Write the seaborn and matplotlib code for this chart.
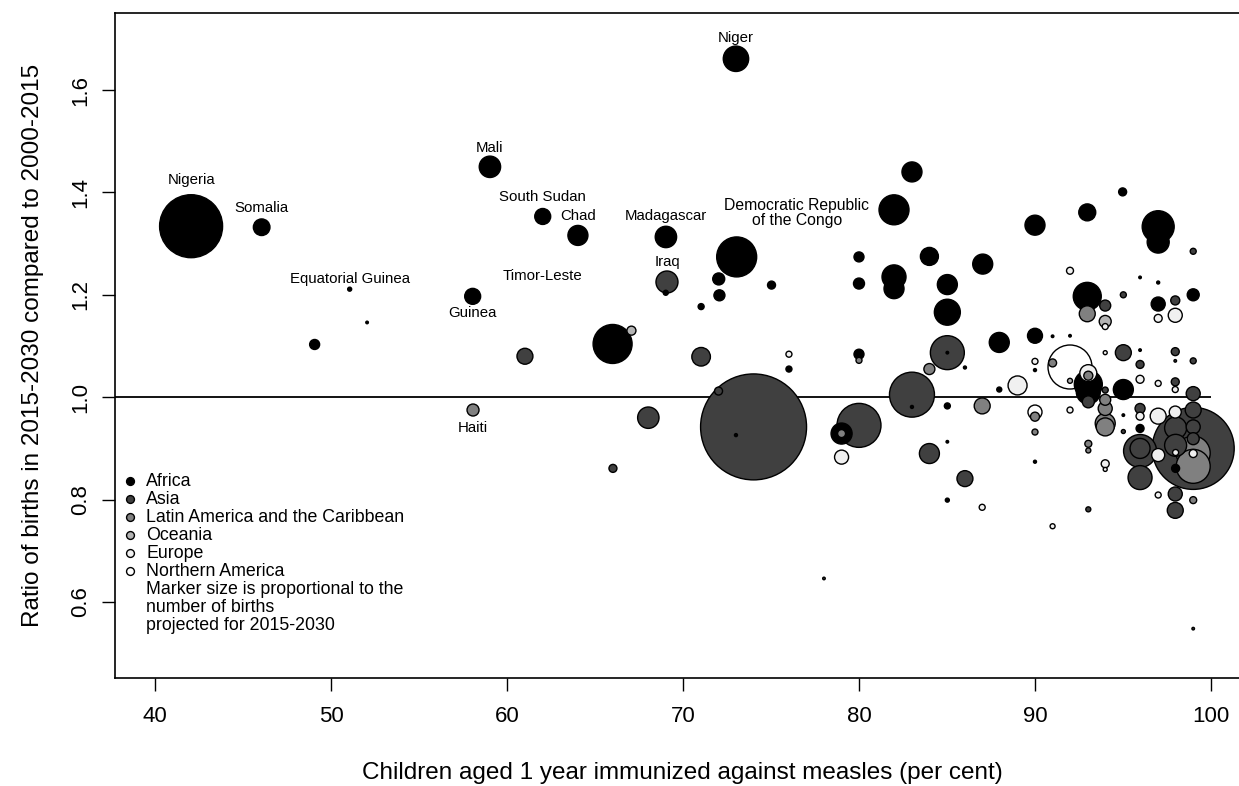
import numpy as np
import pandas as pd
import seaborn as sns
import matplotlib.pyplot as plt

# Immunization coverage (%), birth ratio 2015-2030 / 2000-2015, births 2015-2030 (millions)
africa_cov = [42.05, 46.06, 59.03, 62.03, 64.03, 51.06, 52.05, 49.07, 58.05, 66.0,
              69.03, 69.02, 72.03, 72.07, 71.03, 73.05, 73.01, 75.03, 76.02, 80.0,
              80.0, 80.0, 79.01, 73.01, 83.01, 81.99, 94.98, 92.97, 90.0, 97.0,
              97.0, 84.0, 87.03, 81.99, 81.99, 85.02, 85.02, 95.97, 97.0, 98.99,
              92.97, 97.0, 87.97, 90.0, 91.0, 91.99, 90.0, 93.03, 93.03, 95.02,
              95.97, 86.02, 85.02, 87.97, 83.01, 85.02, 85.02, 90.0, 95.97, 97.99,
              95.02, 85.02]
africa_ratio = [1.334, 1.332, 1.450, 1.353, 1.316, 1.211, 1.146, 1.103, 1.197, 1.104,
                1.313, 1.204, 1.231, 1.199, 1.177, 1.274, 1.661, 1.219, 1.055, 1.274,
                1.222, 1.084, 0.929, 0.926, 1.440, 1.366, 1.401, 1.361, 1.336, 1.333,
                1.303, 1.275, 1.260, 1.235, 1.212, 1.220, 1.166, 1.234, 1.224, 1.200,
                1.197, 1.182, 1.107, 1.120, 1.119, 1.120, 1.053, 1.025, 1.010, 1.015,
                1.092, 1.058, 0.983, 1.015, 0.981, 0.913, 0.799, 0.874, 0.939, 0.861,
                0.965, 1.087]
africa_births = [131.0, 9.1, 15.1, 8.4, 13.2, 0.53, 0.22, 3.3, 8.4, 50.2,
                 15.1, 0.83, 4.75, 4.0, 1.19, 52.8, 21.3, 2.1, 1.19, 3.3,
                 4.0, 3.3, 14.6, 0.3, 13.2, 29.7, 2.1, 9.5, 13.2, 33.8,
                 16.0, 10.7, 13.2, 19.0, 13.2, 13.2, 22.3, 0.22, 0.3, 4.75,
                 25.9, 6.5, 13.2, 7.4, 0.22, 0.22, 0.3, 25.9, 19.0, 13.2,
                 0.22, 0.3, 1.19, 0.83, 0.3, 0.22, 0.53, 0.3, 2.1, 2.1,
                 0.22, 0.22]

asia_cov = [74.01, 98.99, 61.02, 68.03, 66.02, 69.09, 71.03, 72.02, 80.0, 83.01,
            85.02, 84.0, 86.02, 98.99, 95.02, 93.99, 97.97, 95.02, 93.99, 95.97,
            97.97, 98.99, 97.97, 98.99, 98.99, 98.99, 98.99, 93.03, 95.97, 95.97,
            95.97, 95.97, 97.99, 97.99, 97.97, 97.97, 93.03, 95.02, 97.97, 98.99,
            78.01]
asia_ratio = [0.942, 0.900, 1.080, 0.960, 0.861, 1.225, 1.079, 1.012, 0.945, 1.005,
              1.087, 0.890, 0.841, 1.285, 1.200, 1.179, 1.189, 1.087, 1.014, 1.064,
              1.089, 1.071, 1.030, 1.007, 0.975, 0.942, 0.919, 0.991, 0.978, 0.895,
              0.900, 0.843, 0.940, 0.906, 0.811, 0.779, 0.781, 0.933, 1.071, 0.548,
              0.646]
asia_births = [370.8, 221.9, 8.4, 15.1, 2.1, 16.0, 11.4, 2.1, 63.9, 66.8,
               38.1, 13.2, 8.4, 1.19, 1.19, 4.0, 2.7, 8.4, 1.19, 2.1,
               2.1, 1.19, 2.1, 6.5, 8.4, 6.5, 4.75, 4.75, 3.3, 35.9,
               13.2, 19.0, 16.0, 16.0, 6.5, 8.4, 0.83, 0.53, 0.22, 0.22,
               0.22]

latam_cov = [58.07, 87.0, 84.0, 92.97, 91.0, 93.03, 93.99, 93.99, 93.99, 93.99,
             90.0, 90.0, 93.03, 93.03, 98.99, 98.99, 98.99, 80.0, 79.01]
latam_ratio = [0.975, 0.983, 1.055, 1.163, 1.067, 1.042, 0.995, 0.978, 0.949, 0.942,
               0.962, 0.932, 0.909, 0.896, 0.799, 0.891, 0.865, 1.072, 0.929]
latam_births = [4.75, 8.4, 4.0, 8.4, 2.1, 2.7, 4.0, 6.5, 13.2, 10.7,
                2.7, 1.19, 1.6, 0.83, 1.6, 38.1, 38.1, 1.19, 2.1]

oceania_cov = [67.07, 93.99, 91.99]
oceania_ratio = [1.130, 1.148, 1.032]
oceania_births = [2.7, 4.75, 0.83]

europe_cov = [91.99, 97.97, 97.0, 93.99, 89.01, 90.0, 93.03, 93.99, 95.97, 97.0,
              97.97, 91.99, 95.97, 97.0, 97.97, 97.0, 97.0, 87.0, 91.0, 93.99,
              93.99, 76.02, 79.01, 97.99, 98.99]
europe_ratio = [1.247, 1.160, 1.154, 1.138, 1.023, 1.070, 1.047, 1.087, 1.035, 1.027,
                1.015, 0.975, 0.963, 0.963, 0.971, 0.887, 0.809, 0.785, 0.748, 0.870,
                0.859, 1.084, 0.883, 0.892, 0.890]
europe_births = [1.6, 6.5, 2.1, 1.19, 11.9, 1.19, 9.5, 0.53, 2.1, 1.19,
                 1.19, 1.19, 2.1, 8.4, 4.75, 5.6, 1.19, 1.19, 0.83, 2.1,
                 0.53, 1.19, 6.5, 1.19, 2.1]

namerica_cov = [91.99, 90.0]
namerica_ratio = [1.059, 0.971]
namerica_births = [63.9, 6.5]

regions = ["Africa", "Asia", "Latin America and the Caribbean", "Oceania",
           "Europe", "Northern America"]
region_colors = ["#000000", "#404040", "#808080", "#b4b4b4", "#f0f0f0", "#ffffff"]

labelled = {
    "Niger": (73.01, 1.661), "Nigeria": (42.05, 1.334), "Somalia": (46.06, 1.332),
    "Mali": (59.03, 1.450), "South Sudan": (62.03, 1.353), "Chad": (64.03, 1.316),
    "Madagascar": (69.03, 1.313), "Iraq": (69.09, 1.225),
    "Democratic Republic\nof the Congo": (73.05, 1.274),
    "Equatorial Guinea": (51.06, 1.211), "Timor-Leste": (62.03, 1.219),
    "Guinea": (58.05, 1.197), "Haiti": (58.07, 0.975),
}

frames = []
for name, c, r, b in [
    ("Africa", africa_cov, africa_ratio, africa_births),
    ("Asia", asia_cov, asia_ratio, asia_births),
    ("Latin America and the Caribbean", latam_cov, latam_ratio, latam_births),
    ("Oceania", oceania_cov, oceania_ratio, oceania_births),
    ("Europe", europe_cov, europe_ratio, europe_births),
    ("Northern America", namerica_cov, namerica_ratio, namerica_births),
]:
    frames.append(pd.DataFrame({"coverage": c, "ratio": r, "births": b, "region": name}))
data = pd.concat(frames, ignore_index=True)
# biggest bubbles first so the small ones stay visible on top
data = data.sort_values("births", ascending=False, kind="stable")

sns.set_style("white")
plt.rcParams["font.family"] = ["Liberation Sans", "DejaVu Sans"]
plt.rcParams["text.color"] = "black"
plt.rcParams["axes.labelcolor"] = "black"

fig = plt.figure(figsize=(12.39, 7.86), dpi=100)
ax = fig.add_axes([115 / 1239, 108 / 786, 1134 / 1239, 665 / 786])

bmax = data["births"].max()
pt_per_birth = 15.7  # marker area (pt^2) per million births
sns.scatterplot(data=data, x="coverage", y="ratio", hue="region",
                hue_order=regions, palette=dict(zip(regions, region_colors)),
                size="births", sizes=(0, pt_per_birth * bmax), size_norm=(0, bmax),
                edgecolor="black", linewidth=1.0, alpha=1, legend=False, ax=ax,
                zorder=3)

ax.set_xlim(37.727, 102.16)
ax.set_ylim(0.4516, 1.7504)
ax.hlines(1.0, 37.727, 100, color="black", lw=1.3, zorder=2)

ax.set_xticks(np.arange(40, 101, 10))
ax.set_yticks([0.6, 0.8, 1.0, 1.2, 1.4, 1.6])
ax.set_yticklabels(["0.6", "0.8", "1.0", "1.2", "1.4", "1.6"])
ax.tick_params(axis="both", direction="out", length=9.4, width=1.0, color="black",
               labelsize=16, labelcolor="black", left=True, bottom=True)
ax.tick_params(axis="x", pad=11)
ax.tick_params(axis="y", pad=8, labelrotation=90)
for lbl in ax.get_yticklabels():
    lbl.set_va("center")
for sp in ax.spines.values():
    sp.set_color("black")
    sp.set_linewidth(1.2)

ax.set_xlabel("Children aged 1 year immunized against measles (per cent)", fontsize=17.5)
ax.set_ylabel("Ratio of births in 2015-2030 compared to 2000-2015", fontsize=17.5)
ax.xaxis.set_label_coords(0.5, -0.143)
ax.xaxis.label.set_va("center")
ax.yaxis.set_label_coords(-0.072, 0.5)
ax.yaxis.label.set_va("center")

offsets = {
    "Niger": (0, 15.1), "Nigeria": (0, 33.6), "Somalia": (0, 14.2), "Mali": (0, 13.7),
    "South Sudan": (0, 13.9), "Chad": (0, 13.9), "Madagascar": (0, 15.1),
    "Iraq": (0, 14.6), "Democratic Republic\nof the Congo": (43.2, 31.8),
    "Equatorial Guinea": (0, 7.5), "Timor-Leste": (0, 6.5), "Guinea": (0, -12.0),
    "Haiti": (0, -12.7),
}
for name, (cx, cy) in labelled.items():
    big = name.startswith("Democratic")
    ax.annotate(name, (cx, cy), xytext=offsets[name], textcoords="offset points",
                ha="center", va="center", fontsize=11.3 if big else 10.8,
                linespacing=1.0, zorder=5)

# legend in the R style: small dots, tight rows, no frame
row_px = 18
for i, (name, col) in enumerate(zip(regions, region_colors)):
    ypix = 481 + row_px * i
    ax.scatter([130 / 1239], [1 - ypix / 786], s=32, c=col, edgecolors="black",
               linewidths=1.0, transform=fig.transFigure, zorder=6, clip_on=False)
    fig.text(146 / 1239, 1 - ypix / 786, name, fontsize=12.8, va="center", ha="left")
notes = ["Marker size is proportional to the", "number of births", "projected for 2015-2030"]
for j, line in enumerate(notes):
    ypix = 481 + row_px * (6 + j)
    fig.text(146 / 1239, 1 - ypix / 786, line, fontsize=12.8, va="center", ha="left")

fig.savefig("out.png", dpi=100)
